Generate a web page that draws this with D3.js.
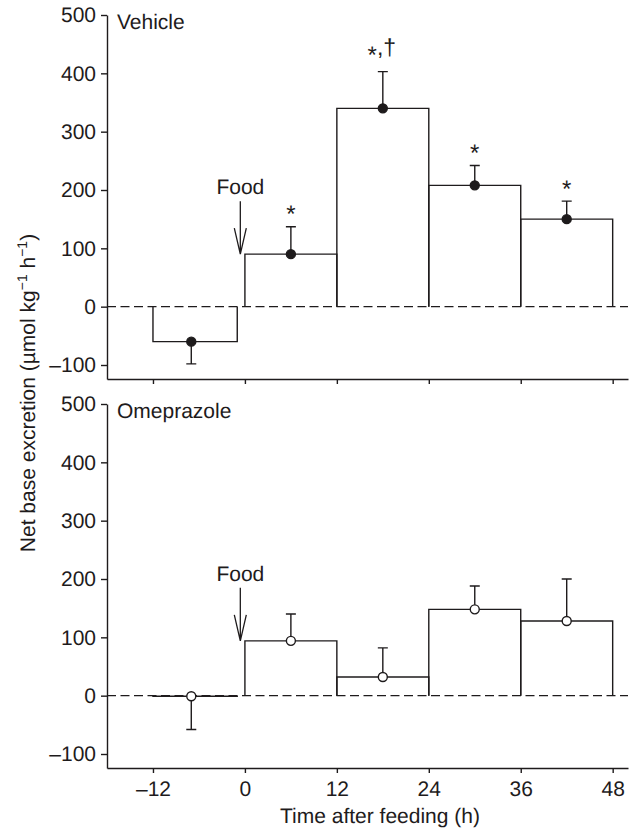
<!DOCTYPE html>
<html>
<head>
<meta charset="utf-8">
<script src="https://cdn.jsdelivr.net/npm/d3@7"></script>
<style>
  body { margin: 0; background: #fff; }
  svg { display: block; font-family: "Liberation Sans", Arial, sans-serif; text-rendering: geometricPrecision; }
  text, tspan { fill: #1e1b1c; }
</style>
</head>
<body>
<svg id="chart" width="638" height="830"></svg>
<script>
// data
var timeTicks = [-12, 0, 12, 24, 36, 48];
var yTicks = [-100, 0, 100, 200, 300, 400, 500];
var binStart = [-12, 0, 12, 24, 36];
var binEnd = [-1, 12, 24, 36, 48];
var binMid = [-7, 6, 18, 30, 42];

var vehicleMean = [-60, 90, 340, 208, 150];
var vehicleSem = [38, 47, 63, 34, 31];
var vehicleSig = ["", "*", "*,\u2020", "*", "*"];

var omeprazoleMean = [-1, 94, 32, 148, 128];
var omeprazoleSem = [57, 46, 50, 40, 72];
var omeprazoleSig = ["", "", "", "", ""];

var foodTime = -0.6;

var ink = "#1e1b1c";
var fs = 21;
var svg = d3.select("#chart");

var x = d3.scaleLinear().domain([-18, 50]).range([107, 628]);

function minus(d) { return d < 0 ? "\u2013" + Math.abs(d) : d; }

var panels = [
  {name: "Vehicle", mean: vehicleMean, sem: vehicleSem, sig: vehicleSig, filled: true, top: 15, labels: false},
  {name: "Omeprazole", mean: omeprazoleMean, sem: omeprazoleSem, sig: omeprazoleSig, filled: false, top: 404, labels: true}
];

panels.forEach(function (p) {
  var y = d3.scaleLinear().domain([-124, 500]).range([p.top + 364, p.top]);
  var g = svg.append("g");

  // axes
  var ya = g.append("g").attr("transform", "translate(107,0)")
    .call(d3.axisLeft(y).tickValues(yTicks).tickSize(6).tickPadding(5).tickSizeOuter(0)
      .tickFormat(minus));
  var xa = g.append("g").attr("transform", "translate(0," + y.range()[0] + ")")
    .call(d3.axisBottom(x).tickValues(timeTicks).tickSize(5).tickPadding(8).tickSizeOuter(0)
      .tickFormat(function (d) { return p.labels ? minus(d) : ""; }));
  [ya, xa].forEach(function (a) {
    a.selectAll("path, line").attr("stroke", ink).attr("stroke-width", 1.4);
    a.selectAll("text").attr("font-size", fs).attr("fill", ink)
      .attr("font-family", "'Liberation Sans', Arial, sans-serif");
  });

  // zero reference line
  g.append("line")
    .attr("x1", x(-18)).attr("x2", x(50))
    .attr("y1", y(0)).attr("y2", y(0))
    .attr("stroke", ink).attr("stroke-width", 1.3)
    .attr("stroke-dasharray", "9,4.5");

  // open bins (left, top, right)
  g.selectAll(".bin").data(p.mean).enter().append("path")
    .attr("class", "bin")
    .attr("fill", "none").attr("stroke", ink).attr("stroke-width", 1.4)
    .attr("d", function (d, i) {
      return "M" + x(binStart[i]) + "," + y(0) +
        "V" + y(d) + "H" + x(binEnd[i]) + "V" + y(0);
    });

  // one-sided error bars
  g.selectAll(".err").data(p.mean).enter().append("path")
    .attr("class", "err")
    .attr("fill", "none").attr("stroke", ink).attr("stroke-width", 1.4)
    .attr("d", function (d, i) {
      var e = d < 0 ? d - p.sem[i] : d + p.sem[i];
      var cx = x(binMid[i]);
      return "M" + cx + "," + y(d) + "V" + y(e) +
        "M" + (cx - 5) + "," + y(e) + "H" + (cx + 5);
    });

  // points
  g.selectAll(".pt").data(p.mean).enter().append("circle")
    .attr("class", "pt")
    .attr("cx", function (d, i) { return x(binMid[i]); })
    .attr("cy", function (d) { return y(d); })
    .attr("r", 4.5)
    .attr("fill", p.filled ? ink : "#fff")
    .attr("stroke", ink).attr("stroke-width", 1.4);

  // significance marks: asterisk drawn larger, dagger after a comma
  p.sig.forEach(function (d, i) {
    if (!d) return;
    var parts = d.split(",");
    var cap = y(p.mean[i] + p.sem[i]);
    var t = g.append("text").attr("text-anchor", "middle").attr("fill", ink)
      .attr("font-family", "'Liberation Sans', Arial, sans-serif")
      .attr("x", x(binMid[i]) - (parts.length > 1 ? 1 : 0))
      .attr("y", parts.length > 1 ? cap - 17 : cap - 4.5);
    t.append("tspan").attr("font-size", 24).attr("fill", ink)
      .attr("dy", parts.length > 1 ? 8 : 0).text(parts[0]);
    if (parts.length > 1) {
      t.append("tspan").attr("font-size", 23).attr("fill", ink)
        .attr("dy", -8).text("," + parts[1]);
    }
  });

  // panel label
  g.append("text").attr("x", 117).attr("y", p.top + 14)
    .attr("font-size", fs).text(p.name);

  // food arrow
  var fx = x(foodTime), tip = y(p.mean[1]);
  g.append("text").attr("x", fx).attr("y", tip - 60)
    .attr("text-anchor", "middle").attr("font-size", fs).text("Food");
  g.append("path")
    .attr("fill", "none").attr("stroke", ink).attr("stroke-width", 1.3)
    .attr("d", "M" + fx + "," + (tip - 53) + "V" + tip +
      "M" + (fx - 6) + "," + (tip - 26) + "L" + fx + "," + tip + "L" + (fx + 6) + "," + (tip - 26));
});

// axis titles
svg.append("text")
  .attr("transform", "translate(35,393) rotate(-90)")
  .attr("text-anchor", "middle").attr("font-size", fs)
  .html("Net base excretion (\u00b5mol kg<tspan dy='-8' font-size='14'>\u22121</tspan><tspan dy='8'> h</tspan><tspan dy='-8' font-size='14'>\u22121</tspan><tspan dy='8'>)</tspan>");

svg.append("text")
  .attr("x", 380).attr("y", 823)
  .attr("text-anchor", "middle").attr("font-size", fs)
  .text("Time after feeding (h)");
</script>
</body>
</html>
